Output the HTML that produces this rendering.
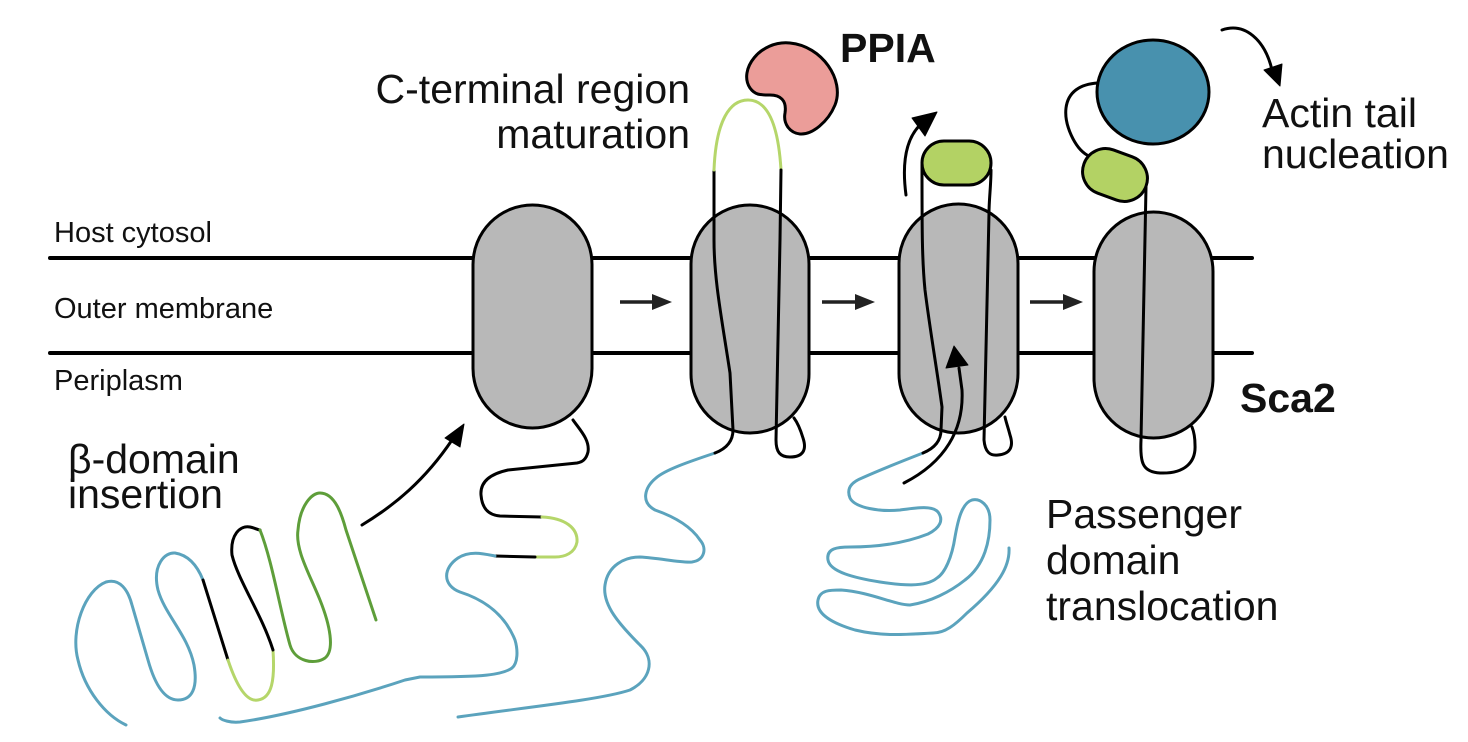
<!DOCTYPE html>
<html><head><meta charset="utf-8"><style>
html,body{margin:0;padding:0;background:#fff;}
svg{display:block;font-family:"Liberation Sans",sans-serif;}
</style></head><body>
<svg width="1468" height="742" viewBox="0 0 1468 742" xmlns="http://www.w3.org/2000/svg">
<g fill="none" stroke-linecap="round" stroke-linejoin="round">
<line x1="50" y1="258" x2="1252" y2="258" stroke="#000" stroke-width="4"/>
<line x1="50" y1="353" x2="1252" y2="353" stroke="#000" stroke-width="4"/>
</g>
<g fill="#b8b8b8" stroke="#000" stroke-width="3">
<rect x="473" y="205" width="119" height="223" rx="59.5"/>
<rect x="691" y="205" width="118" height="228" rx="59"/>
<rect x="899" y="204" width="119" height="229" rx="59.5"/>
<rect x="1094" y="212" width="119" height="226" rx="59.5"/>
</g>
<g stroke="#222" stroke-width="3.5" fill="#222">
<line x1="620" y1="302" x2="655" y2="302"/><path d="M652,294 L672,302 L652,310 Z" stroke="none"/>
<line x1="822" y1="302" x2="858" y2="302"/><path d="M855,294 L875,302 L855,310 Z" stroke="none"/>
<line x1="1030" y1="302" x2="1066" y2="302"/><path d="M1063,294 L1083,302 L1063,310 Z" stroke="none"/>
</g>
<g fill="none" stroke-width="3" stroke-linecap="round" stroke-linejoin="round">
<path d="M126,725 C105,715 85,690 78,660 C70,630 85,590 106,582 C120,578 128,590 132,605 L148,660 C155,685 165,700 178,700 C192,700 198,688 194,665 C188,635 165,615 158,590 C152,565 165,552 175,553 C188,555 197,565 203,580" stroke="#5ba3bd"/>
<path d="M203,580 L228,660" stroke="#000"/>
<path d="M228,660 C238,690 248,702 258,700 C272,698 275,680 273,650" stroke="#b5d66a"/>
<path d="M273,650 C262,615 238,580 232,555 C230,535 240,525 250,527 C255,528 258,530 260,530" stroke="#000"/>
<path d="M260,530 C272,560 280,610 290,645 C295,662 315,665 325,658 C335,650 330,625 320,600 C310,575 295,550 298,530 C300,505 312,493 320,493 C335,493 342,515 346,530 L376,620" stroke="#5e9e3a"/>
<path d="M362,525 C395,505 425,480 452,440" stroke="#000"/>
<path d="M445,438 L464,424 L460,447 Z" fill="#000" stroke="#000" stroke-width="1"/>
<path d="M573,420 C580,430 590,440 588,452 C586,460 582,462 577,463 L508,470 C490,474 480,482 481,495 C482,508 488,515 500,516 L542,517" stroke="#000"/>
<path d="M542,517 C565,518 578,528 577,542 C575,553 565,557 555,557 L535,557" stroke="#b5d66a"/>
<path d="M535,557 L495,556" stroke="#000"/>
<path d="M495,556 C485,554 470,550 458,558 C443,568 442,585 460,592 C485,600 505,615 515,640 C518,650 518,663 512,668 C502,675 485,677 420,677 L405,680 C360,695 290,715 240,722 C230,723 222,720 220,718" stroke="#5ba3bd"/>
<path d="M458,717 C520,708 600,700 630,690 C650,680 656,660 640,645 C620,625 602,605 605,585 C608,565 625,557 640,557 C660,558 680,563 692,562 C705,560 707,548 700,540 C692,528 678,518 655,510 C640,502 645,487 656,478 C665,470 688,462 715,453" stroke="#5ba3bd"/>
<path d="M715,453 C728,448 733,440 733,430 L730,373 C722,320 714,280 714,240 L714,170" stroke="#000"/>
<path d="M714,170 C716,120 730,100 748,100 C766,100 778,120 781,170" stroke="#b5d66a"/>
<path d="M781,170 L780,240 L776,440 C776,452 780,457 790,457 C803,457 807,450 803,438 C800,428 797,422 794,418" stroke="#000"/>
<path d="M1009,548 C1010,565 1000,585 967,613 C955,625 945,633 933,633 C900,635 880,636 855,630 C835,624 815,615 818,600 C820,590 830,590 841,590 C870,592 895,605 910,605 C930,602 950,592 965,580 C985,565 990,540 990,520 C990,505 980,498 972,500 C962,503 958,520 955,537 C952,557 945,573 937,578 C925,588 900,585 880,582 C855,578 830,572 828,560 C826,548 838,547 850,547 C870,547 900,545 928,534 C940,528 944,520 938,512 C932,505 915,508 900,510 C880,512 855,508 850,498 C846,488 852,482 862,478 C880,470 905,460 923,453" stroke="#5ba3bd"/>
<path d="M923,453 C935,448 941,440 941,430 L942,407 C937,370 930,330 925,290 C922,260 922,230 922,165" stroke="#000"/>
<path d="M991,170 C991,185 989,200 989,213 L984,440 C985,452 990,456 998,455 C1010,454 1014,447 1010,435 C1008,427 1006,422 1005,417" stroke="#000"/>
<path d="M904,483 C945,462 964,430 962,390 L959,368" stroke="#000"/>
<path d="M946,368 L954,346 L968,365 Z" fill="#000" stroke="#000" stroke-width="1"/>
<path d="M906,195 C902,165 905,140 920,125" stroke="#000"/>
<path d="M912,118 L937,112 L925,136 Z" fill="#000" stroke="#000" stroke-width="1"/>
<path d="M1146,187 L1141,440 C1140,462 1142,472 1160,473 C1185,474 1196,462 1195,445 C1195,438 1194,432 1192,427" stroke="#000"/>
<path d="M1098,83 C1080,84 1068,92 1066,108 C1064,125 1075,148 1087,155" stroke="#000"/>
<path d="M1222,30 C1245,22 1265,40 1272,70" stroke="#000"/>
<path d="M1264,70 L1280,86 L1282,64 Z" fill="#000" stroke="#000" stroke-width="1"/>
</g>
<path d="M750,88 C738,70 760,40 790,43 C822,46 845,80 835,105 C828,122 812,135 800,134 C790,133 783,124 785,113 C787,100 780,95 770,95 C760,95 755,95 750,88 Z" fill="#eb9d99" stroke="#000" stroke-width="3"/>
<rect x="922" y="141" width="69" height="44" rx="22" fill="#b3d264" stroke="#000" stroke-width="3"/>
<rect x="1082" y="152" width="66" height="46" rx="23" fill="#b3d264" stroke="#000" stroke-width="3" transform="rotate(20 1115 175)"/>
<ellipse cx="1153" cy="92" rx="56" ry="52" fill="#4891ae" stroke="#000" stroke-width="3"/>
<g fill="#111">
<text x="54" y="242" font-size="29">Host cytosol</text>
<text x="54" y="318" font-size="29">Outer membrane</text>
<text x="54" y="390" font-size="29">Periplasm</text>
<text x="68" y="473" font-size="41">β-domain</text>
<text x="68" y="508" font-size="41">insertion</text>
<text x="690" y="103" font-size="41" text-anchor="end">C-terminal region</text>
<text x="690" y="148" font-size="41" text-anchor="end">maturation</text>
<text x="840" y="62" font-size="41" font-weight="bold">PPIA</text>
<text x="1262" y="127" font-size="41">Actin tail</text>
<text x="1262" y="168" font-size="41">nucleation</text>
<text x="1046" y="528" font-size="41">Passenger</text>
<text x="1046" y="574" font-size="41">domain</text>
<text x="1046" y="620" font-size="41">translocation</text>
<text x="1240" y="412" font-size="41" font-weight="bold">Sca2</text>
</g>
</svg>
</body></html>
